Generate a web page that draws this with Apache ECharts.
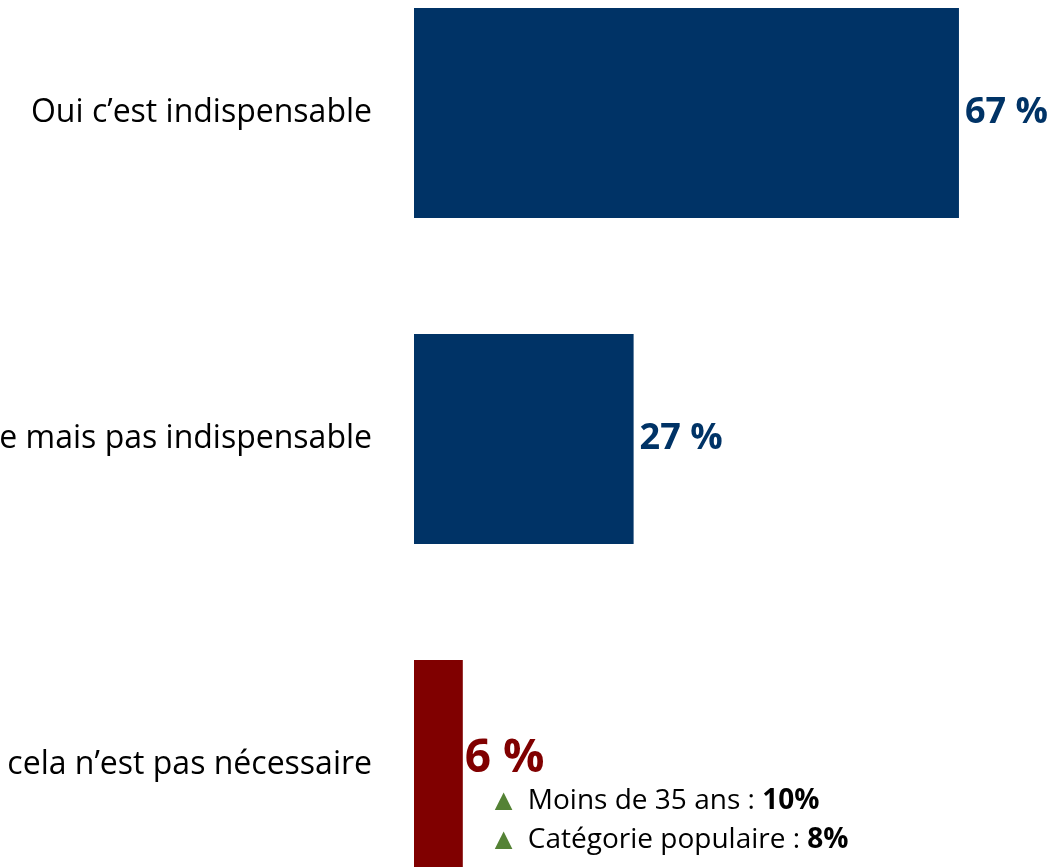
<!DOCTYPE html>
<html>
<head>
<meta charset="utf-8">
<script src="https://cdn.jsdelivr.net/npm/echarts@6/dist/echarts.min.js"></script>
<style>
  html, body { margin: 0; padding: 0; background: #fff; }
  #chart { width: 1057px; height: 867px; }
</style>
</head>
<body>
<div id="chart"></div>
<script>
var categories = [
  "Oui c\u2019est indispensable",
  "Oui c\u2019est utile mais pas indispensable",
  "Non cela n\u2019est pas n\u00e9cessaire"
];
var values = [67, 27, 6];
var barColors = ["#003366", "#003366", "#800000"];
var subLabels = ["Moins de 35 ans", "Cat\u00e9gorie populaire"];
var subValues = ["10%", "8%"];

var font = "'Open Sans', 'Noto Sans', sans-serif";

var myChart = echarts.init(document.getElementById("chart"), null, { renderer: "canvas" });

var data = values.map(function (v, i) {
  var item = { value: v, itemStyle: { color: barColors[i] } };
  if (i === values.length - 1) {
    var lines = subLabels.map(function (s, k) {
      return "{tri|\u25B2} {t|" + s + " : }{b|" + subValues[k] + "}";
    });
    item.label = {
      position: ["100%", 76],
      align: "left",
      verticalAlign: "top",
      formatter: "{big|" + v + " %}\n" + lines.join("\n"),
      rich: {
        big: { fontSize: 46, fontWeight: "bold", color: "#800000", fontFamily: font, lineHeight: 46, padding: [0, 0, 0, 2] },
        tri: { fontSize: 30, color: "#548235", fontWeight: "normal", lineHeight: 39, padding: [0, 0, 0, 26] },
        t: { fontSize: 28, color: "#000", fontWeight: "normal", fontFamily: font, lineHeight: 39 },
        b: { fontSize: 28, color: "#000", fontWeight: "bold", fontFamily: font, lineHeight: 39 }
      }
    };
  }
  return item;
});

var option = {
  animation: false,
  grid: { left: 414, top: -50, width: 650.7, height: 978, containLabel: false, outerBoundsMode: "none" },
  xAxis: {
    type: "value", min: 0, max: 80, show: false
  },
  yAxis: {
    type: "category",
    data: categories,
    inverse: true,
    axisLine: { show: false },
    axisTick: { show: false },
    axisLabel: { color: "#000", fontSize: 32, fontFamily: font, margin: 42 }
  },
  series: [
    {
      type: "bar",
      data: data,
      barWidth: 210,
      label: {
        show: true,
        position: "right",
        distance: 6,
        color: "#003366",
        fontSize: 36,
        fontWeight: "bold",
        fontFamily: font,
        formatter: "{c} %"
      }
    }
  ]
};
myChart.setOption(option);
</script>
</body>
</html>
